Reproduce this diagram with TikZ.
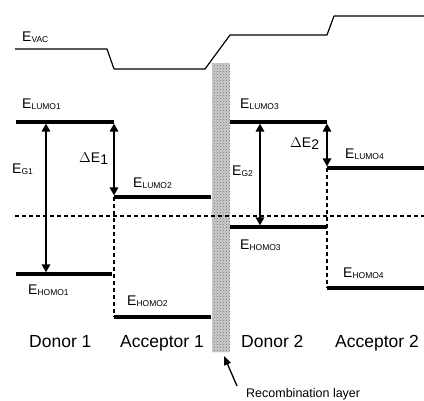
\documentclass[tikz,border=0pt]{standalone}
\usepackage{fontspec}
\setmainfont{Liberation Sans}
\usetikzlibrary{arrows.meta, patterns}
\newcommand{\elev}[1]{E\raisebox{-1pt}{\fontsize{8.5}{9}\selectfont #1}}

\begin{document}
\begin{tikzpicture}[
  x=1pt, y=-1pt,
  level/.style={line width=3.2pt},
  vac/.style={line width=1.2pt, line join=round},
  guide/.style={line width=1.1pt, dash pattern=on 4pt off 3pt},
  arr/.style={{Triangle[length=8pt,width=8.5pt]}-{Triangle[length=8pt,width=8.5pt]}, line width=1.6pt},
  lbl/.style={anchor=base west, inner sep=0pt, font=\fontsize{14}{16}\selectfont},
  mat/.style={anchor=base west, inner sep=0pt, font=\fontsize{17.5}{20}\selectfont}
]
  \useasboundingbox (0,0) rectangle (424,400);

  % recombination layer
  \node[draw=none, fill=gray!40, minimum width=18pt, minimum height=289pt,
        inner sep=0pt, anchor=north west] (rec) at (212,63) {};
  \fill[pattern=crosshatch dots, pattern color=gray!90!black] (rec.south west) rectangle (rec.north east);

  % vacuum level
  \draw[vac] (15,49) -- (107,49) -- (114,69) -- (205,69) -- (230,35) -- (327,35) -- (334,16) -- (424,16);

  % energy levels
  \coordinate (l1a) at (16,122);  \coordinate (l1b) at (114,122);
  \coordinate (h1a) at (16,274);  \coordinate (h1b) at (112,274);
  \coordinate (l2a) at (114,197); \coordinate (l2b) at (211,197);
  \coordinate (h2a) at (114,317); \coordinate (h2b) at (211,317);
  \coordinate (l3a) at (230,122); \coordinate (l3b) at (327,122);
  \coordinate (h3a) at (230,227); \coordinate (h3b) at (327,227);
  \coordinate (l4a) at (327,168); \coordinate (l4b) at (424,168);
  \coordinate (h4a) at (327,288); \coordinate (h4b) at (424,288);
  \coordinate (fa) at (15,216);   \coordinate (fb) at (424,216);

  \foreach \p in {l1,h1,l2,h2,l3,h3,l4,h4}
    \draw[level] (\p a) -- (\p b);

  \draw[guide] (fa) -- (fb);
  \draw[guide] (l2a) -- (h2a);
  \draw[guide] (l4a) -- (h4a);

  % gaps and offsets
  \draw[arr] (46,123.6) -- (46,272.4);
  \draw[arr] ([yshift=-1.6pt]l1b) -- ([yshift=1.6pt]l2a);
  \draw[arr] (260,123.6) -- (260,225.4);
  \draw[arr] ([yshift=-1.6pt]l3b) -- ([yshift=1.6pt]l4a);

  % labels
  \node[lbl] (evac) at (22,41) {\elev{VAC}};
  \node[lbl] (tl1) at (22,108) {\elev{LUMO1}};
  \node[lbl] (tl3) at (240,108) {\elev{LUMO3}};
  \node[lbl] (tg1) at (12,173) {\elev{G1}};
  \node[lbl] (td1) at (79,162) {$\Delta$E\raisebox{-2pt}{1}};
  \node[lbl] (tl2) at (133,187) {\elev{LUMO2}};
  \node[lbl] (tg2) at (232,175) {\elev{G2}};
  \node[lbl] (td2) at (290,147) {$\Delta$E\raisebox{-2pt}{2}};
  \node[lbl] (tl4) at (345,158) {\elev{LUMO4}};
  \node[lbl] (th3) at (240,249) {\elev{HOMO3}};
  \node[lbl] (th1) at (28,294) {\elev{HOMO1}};
  \node[lbl] (th2) at (127,305) {\elev{HOMO2}};
  \node[lbl] (th4) at (343,277) {\elev{HOMO4}};

  \node[mat] (don1) at (29,347) {Donor 1};
  \node[mat] (acc1) at (120,347) {Acceptor 1};
  \node[mat] (don2) at (241,347) {Donor 2};
  \node[mat] (acc2) at (335,347) {Acceptor 2};

  \node[anchor=base west, inner sep=0pt, font=\fontsize{12.5}{14}\selectfont] (reclbl) at (246,397) {Recombination layer};
  \coordinate (recarr) at (237,386);
  \draw[-{Triangle[length=9pt,width=7pt]}, line width=1.3pt] (recarr) -- (224,356);
\end{tikzpicture}
\end{document}
